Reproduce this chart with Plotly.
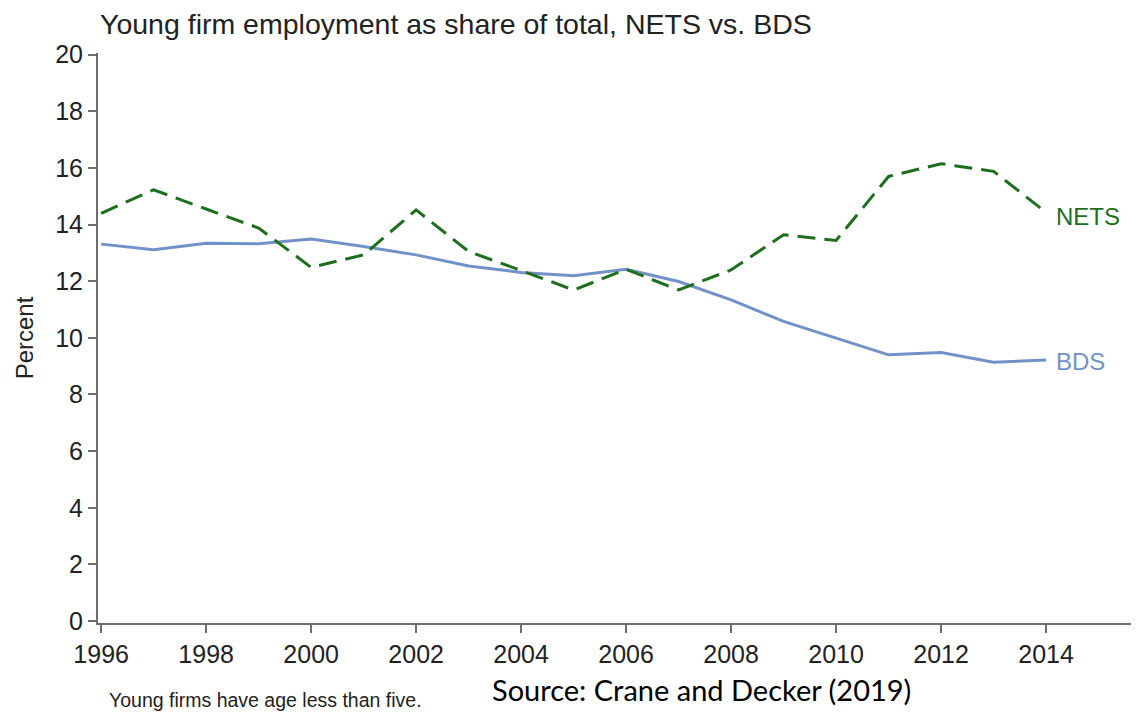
import plotly.graph_objects as go

years = list(range(1996, 2015))
bds = [13.31, 13.11, 13.34, 13.32, 13.49, 13.23, 12.93, 12.54, 12.31, 12.19,
       12.42, 11.99, 11.34, 10.58, 9.99, 9.40, 9.48, 9.14, 9.22]
nets = [14.40, 15.23, 14.55, 13.88, 12.49, 12.93, 14.52, 13.05, 12.38, 11.69,
        12.42, 11.69, 12.40, 13.64, 13.44, 15.70, 16.15, 15.88, 14.43]
x_ticks = list(range(1996, 2015, 2))
y_ticks = list(range(0, 21, 2))

BDS_COLOR = "#7192c9"
NETS_COLOR = "#1e6e1e"
AXIS_COLOR = "#6e6e6e"
TEXT_COLOR = "#222222"
FONT = "Liberation Sans, Arial, sans-serif"

# page body has an 8px margin, so the figure is sized to fit the window exactly
W, H = 1131, 705

fig = go.Figure()
fig.add_trace(go.Scatter(x=years, y=bds, mode="lines", name="BDS",
                         line=dict(color=BDS_COLOR, width=3)))
fig.add_trace(go.Scatter(x=years, y=nets, mode="lines", name="NETS",
                         line=dict(color=NETS_COLOR, width=3, dash="18px,9px")))

fig.add_annotation(x=years[-1], y=nets[-1], text="NETS", showarrow=False,
                   xanchor="left", yanchor="middle", xshift=8, yshift=-4,
                   font=dict(family=FONT, size=24, color=NETS_COLOR))
fig.add_annotation(x=years[-1], y=bds[-1], text="BDS", showarrow=False,
                   xanchor="left", yanchor="middle", xshift=8, yshift=-2,
                   font=dict(family=FONT, size=24, color=BDS_COLOR))

fig.add_annotation(xref="paper", yref="paper", x=0.0086, y=-0.135,
                   text="Young firms have age less than five.", showarrow=False,
                   xanchor="left", yanchor="middle",
                   font=dict(family=FONT, size=19.5, color=TEXT_COLOR))
fig.add_annotation(xref="paper", yref="paper", x=0.3766, y=-0.1175,
                   text="Source: Crane and Decker (2019)", showarrow=False,
                   xanchor="left", yanchor="middle",
                   font=dict(family="Lato, Open Sans, sans-serif", size=29, color="#000000"))

fig.update_layout(
    width=W, height=H,
    margin=dict(l=90, r=0, t=45, b=90, autoexpand=False),
    paper_bgcolor="white", plot_bgcolor="white",
    showlegend=False,
    title=dict(text="Young firm employment as share of total, NETS vs. BDS",
               x=92 / W, xanchor="left", y=0.978, yanchor="middle",
               font=dict(family=FONT, size=28.5, color=TEXT_COLOR)),
    font=dict(family=FONT, color=TEXT_COLOR),
)
fig.update_xaxes(range=[1995.94, 2015.77], tickvals=x_ticks,
                 ticktext=[str(t) for t in x_ticks], automargin=False,
                 showgrid=False, zeroline=False, showline=True,
                 linecolor=AXIS_COLOR, linewidth=2, ticks="outside",
                 ticklen=8, tickwidth=2, tickcolor=AXIS_COLOR,
                 tickfont=dict(family=FONT, size=25, color=TEXT_COLOR))
fig.update_yaxes(range=[-0.07, 20.06], tickvals=y_ticks, automargin=False,
                 showgrid=False, zeroline=False, showline=True,
                 linecolor=AXIS_COLOR, linewidth=2, ticks="outside",
                 ticklen=8, tickwidth=2, tickcolor=AXIS_COLOR,
                 tickfont=dict(family=FONT, size=25, color=TEXT_COLOR),
                 title=dict(text="Percent", standoff=15,
                            font=dict(family=FONT, size=24, color=TEXT_COLOR)))

fig.write_html("out.html")
